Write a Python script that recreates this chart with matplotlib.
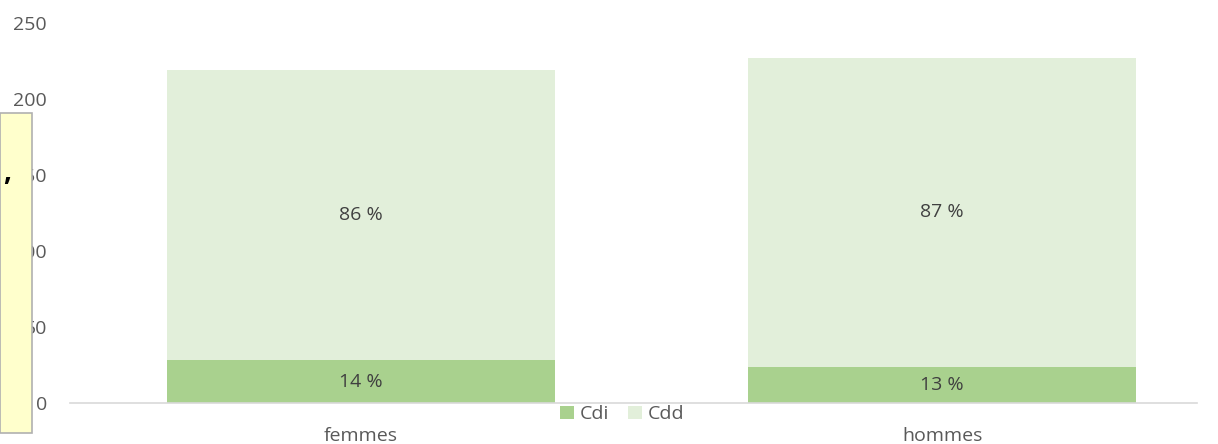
import numpy as np
import matplotlib.pyplot as plt
from matplotlib.patches import Rectangle

categories = ['femmes', 'hommes']
cdi = [28, 24]
cdd = [191, 203]
cdi_labels = ['14 %', '13 %']
cdd_labels = ['86 %', '87 %']

plt.rcParams['font.family'] = ['Open Sans', 'DejaVu Sans']

fig = plt.figure(figsize=(12.18, 4.44), dpi=100)
ax = fig.add_axes([0.0575, 0.0923, 0.9255, 0.8557])

x = np.arange(len(categories))
c_cdi = '#a9d18e'
c_cdd = '#e2efda'
ax.bar(x, cdi, width=0.668, color=c_cdi, label='Cdi')
ax.bar(x, cdd, width=0.668, bottom=cdi, color=c_cdd, label='Cdd')

fs = 14
for i in range(len(categories)):
    ax.text(x[i], cdi[i] / 2, cdi_labels[i], ha='center', va='center', fontsize=fs, color='#404040')
    ax.text(x[i], cdi[i] + cdd[i] / 2, cdd_labels[i], ha='center', va='center', fontsize=fs, color='#404040')

ax.set_xlim(-0.501, 1.439)
ax.set_ylim(0, 250)
ax.set_yticks(range(0, 251, 50))
ax.set_xticks(x)
ax.set_xticklabels(categories)
ax.tick_params(axis='both', length=0, labelsize=fs, labelcolor='#595959')
ax.tick_params(axis='y', pad=16.5)
ax.tick_params(axis='x', pad=17)
for s in ['top', 'right', 'left']:
    ax.spines[s].set_visible(False)
ax.spines['bottom'].set_color('#d9d9d9')
ax.spines['bottom'].set_linewidth(1.2)

ax.legend(loc='center', bbox_to_anchor=(0.49, -0.03), ncol=2, frameon=False,
          fontsize=fs, handlelength=0.7, handleheight=0.7, handletextpad=0.3,
          columnspacing=1.0, labelcolor='#595959', borderpad=0)

# comment box overlay on the left
box = Rectangle((0, 11 / 444), 32 / 1218, 320 / 444, transform=fig.transFigure,
                facecolor='#ffffcc', edgecolor='#b0b0b0', linewidth=1.2, zorder=10)
fig.patches.append(box)
fig.text(3 / 1218, 1 - 172 / 444, ',', fontsize=20, fontweight='bold', color='black',
         va='center', zorder=11)

plt.savefig('out.png')
